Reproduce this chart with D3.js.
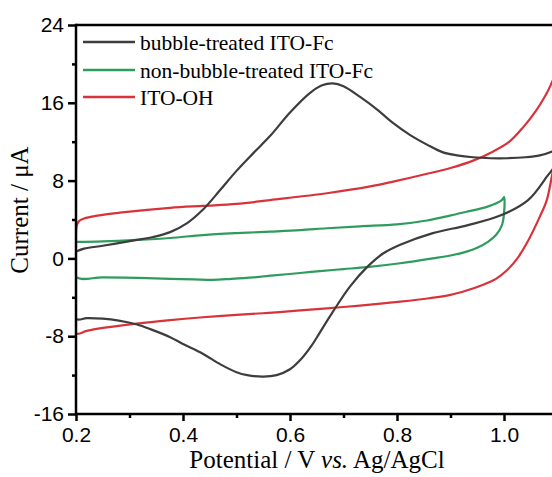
<!DOCTYPE html>
<html><head><meta charset="utf-8">
<script src="https://cdn.jsdelivr.net/npm/d3@7"></script>
<style>body{margin:0;background:#fff}svg{display:block}</style>
</head><body>
<svg id="c" width="552" height="477"></svg>
<script>
// ---- data ----
const seriesNames = ["bubble-treated ITO-Fc", "non-bubble-treated ITO-Fc", "ITO-OH"];
const seriesColors = ["#3d3d3d", "#2e9c5c", "#d8333a"];

// bubble-treated ITO-Fc (closed CV loop: forward then reverse)
const bubbleV = [0.2,0.215,0.25,0.282,0.314,0.344,0.376,0.407,0.437,0.469,0.5,0.531,0.563,0.6,0.637,0.66,0.68,0.7,0.731,0.763,0.793,0.824,0.856,0.886,0.912,0.942,0.975,1.006,1.04,1.067,1.09,1.1,
  1.1,1.08,1.045,0.993,0.931,0.867,0.806,0.774,0.744,0.712,0.68,0.656,0.64,0.62,0.6,0.575,0.55,0.52,0.5,0.47,0.437,0.4,0.376,0.34,0.314,0.28,0.25,0.22,0.2,0.2];
const bubbleI = [0.7,1.0,1.3,1.6,1.9,2.2,2.7,3.6,5.0,7.0,9.0,10.8,12.6,15.0,17.0,17.8,18.0,17.7,16.6,15.3,13.9,12.7,11.7,10.9,10.6,10.4,10.3,10.3,10.4,10.6,11.0,11.3,
  10.0,8.4,6.0,4.4,3.4,2.6,1.4,0.5,-0.9,-2.9,-5.5,-7.6,-9.0,-10.4,-11.4,-12.0,-12.15,-12.0,-11.7,-10.9,-9.8,-8.8,-8.1,-7.3,-6.8,-6.4,-6.2,-6.15,-6.2,0.7];

// non-bubble-treated ITO-Fc
const nonBubbleV = [0.2,0.25,0.314,0.376,0.437,0.5,0.563,0.619,0.669,0.731,0.8,0.856,0.899,0.93,0.968,0.996,1.0,
  1.0,0.996,0.985,0.97,0.95,0.93,0.9,0.867,0.806,0.744,0.7,0.656,0.619,0.57,0.531,0.49,0.456,0.42,0.376,0.314,0.25,0.2,0.2];
const nonBubbleI = [1.7,1.75,1.9,2.1,2.4,2.6,2.75,2.9,3.1,3.3,3.5,3.9,4.4,4.8,5.3,6.0,6.3,
  4.6,3.4,2.4,1.7,1.1,0.7,0.3,0.0,-0.5,-0.9,-1.1,-1.3,-1.5,-1.75,-1.95,-2.1,-2.2,-2.15,-2.1,-2.0,-1.95,-1.9,1.7];

// ITO-OH
const itoOhV = [0.2,0.201,0.205,0.215,0.24,0.282,0.376,0.437,0.5,0.563,0.669,0.75,0.793,0.856,0.9,0.94,0.98,1.01,1.036,1.06,1.08,1.1,
  1.1,1.09,1.08,1.067,1.043,1.025,1.006,0.985,0.961,0.93,0.9,0.86,0.806,0.75,0.7,0.619,0.56,0.5,0.437,0.376,0.314,0.25,0.22,0.2,0.2];
const itoOhI = [2.6,3.3,3.8,4.1,4.4,4.7,5.2,5.4,5.6,6.0,6.7,7.4,7.9,8.7,9.3,10.0,11.0,12.0,13.5,15.2,17.0,19.0,
  11.5,8.6,6.0,4.3,1.6,0.0,-1.2,-2.1,-2.7,-3.3,-3.75,-4.1,-4.45,-4.75,-5.0,-5.35,-5.6,-5.8,-6.05,-6.35,-6.7,-7.15,-7.45,-7.7,2.6];

const xMajorTicks = [0.2,0.4,0.6,0.8,1.0];
const xTickLabels = ["0.2","0.4","0.6","0.8","1.0"];
const xMinorTicks = [0.3,0.5,0.7,0.9];
const yMajorTicks = [-16,-8,0,8,16,24];
const yTickLabels = ["-16","-8","0","8","16","24"];
const yMinorTicks = [-12,-4,4,12,20];

// ---- layout ----
const svg = d3.select("#c");
const mLeft = 76, mTop = 25, mBottom = 414, mRight = 560;
const x = d3.scaleLinear().domain([0.2, 1.0]).range([mLeft, 504]);
const y = d3.scaleLinear().domain([-16, 24]).range([mBottom, mTop]);

svg.append("clipPath").attr("id","clip").append("rect")
  .attr("x", mLeft).attr("y", mTop).attr("width", mRight-mLeft).attr("height", mBottom-mTop);

const series = [
  {v: bubbleV, i: bubbleI},
  {v: nonBubbleV, i: nonBubbleI},
  {v: itoOhV, i: itoOhI}
];
const line = d3.line().x(d => x(d[0])).y(d => y(d[1])).curve(d3.curveCatmullRom.alpha(0.5));
const plot = svg.append("g").attr("clip-path","url(#clip)");
[2,1,0].forEach(k => {
  const s = series[k];
  const pts = s.v.map((v, j) => [v, s.i[j]]);
  plot.append("path").attr("d", line(pts)).attr("fill","none")
    .attr("stroke", seriesColors[k]).attr("stroke-width", 2.2).attr("stroke-linejoin","round");
});

// axes
const xAxis = d3.axisBottom(x).tickValues(xMajorTicks).tickFormat((d,i)=>xTickLabels[i]).tickSize(7).tickPadding(6);
const gx = svg.append("g").attr("transform", `translate(0,${mBottom})`).call(xAxis);
gx.select(".domain").remove();
const xMinor = d3.axisBottom(x).tickValues(xMinorTicks).tickFormat("").tickSize(4);
const gxm = svg.append("g").attr("transform", `translate(0,${mBottom})`).call(xMinor);
gxm.select(".domain").remove();

const yAxis = d3.axisLeft(y).tickValues(yMajorTicks).tickFormat((d,i)=>yTickLabels[i]).tickSize(8).tickPadding(4);
const gy = svg.append("g").attr("transform", `translate(${mLeft},0)`).call(yAxis);
gy.select(".domain").remove();
const yMinor = d3.axisLeft(y).tickValues(yMinorTicks).tickFormat("").tickSize(4);
const gym = svg.append("g").attr("transform", `translate(${mLeft},0)`).call(yMinor);
gym.select(".domain").remove();

svg.selectAll(".tick line").attr("stroke","#000").attr("stroke-width",2.5);
svg.selectAll(".tick text").attr("font-family","Arial, 'Liberation Sans', sans-serif").attr("font-size",21).attr("fill","#000");

// frame lines
svg.append("line").attr("x1",mLeft).attr("x2",mRight).attr("y1",mBottom).attr("y2",mBottom).attr("stroke","#000").attr("stroke-width",2.5);
svg.append("line").attr("x1",mLeft).attr("x2",mRight).attr("y1",mTop).attr("y2",mTop).attr("stroke","#000").attr("stroke-width",2.5);
svg.append("line").attr("x1",mLeft).attr("x2",mLeft).attr("y1",mTop-1.25).attr("y2",mBottom+1.25).attr("stroke","#000").attr("stroke-width",2.5);

// axis titles
const xt = svg.append("text").attr("x", 317).attr("y", 468).attr("text-anchor","middle")
  .attr("font-family","'Times New Roman', 'Liberation Serif', serif").attr("font-size",25).attr("fill","#000");
xt.append("tspan").text("Potential / V ");
xt.append("tspan").attr("font-style","italic").text("vs.");
xt.append("tspan").text(" Ag/AgCl");

svg.append("text").attr("transform","translate(28,210) rotate(-90)").attr("text-anchor","middle")
  .attr("font-family","'Times New Roman', 'Liberation Serif', serif").attr("font-size",25).attr("fill","#000")
  .text("Current / μA");

// legend
const legY = [42, 70, 97];
seriesNames.forEach((n, k) => {
  svg.append("line").attr("x1",83).attr("x2",135).attr("y1",legY[k]).attr("y2",legY[k])
    .attr("stroke",seriesColors[k]).attr("stroke-width",2.5);
  svg.append("text").attr("x",140).attr("y",legY[k]).attr("dy","0.35em")
    .attr("font-family","'Times New Roman', 'Liberation Serif', serif").attr("font-size",21.5).attr("fill","#000")
    .text(n);
});
</script>
</body></html>
